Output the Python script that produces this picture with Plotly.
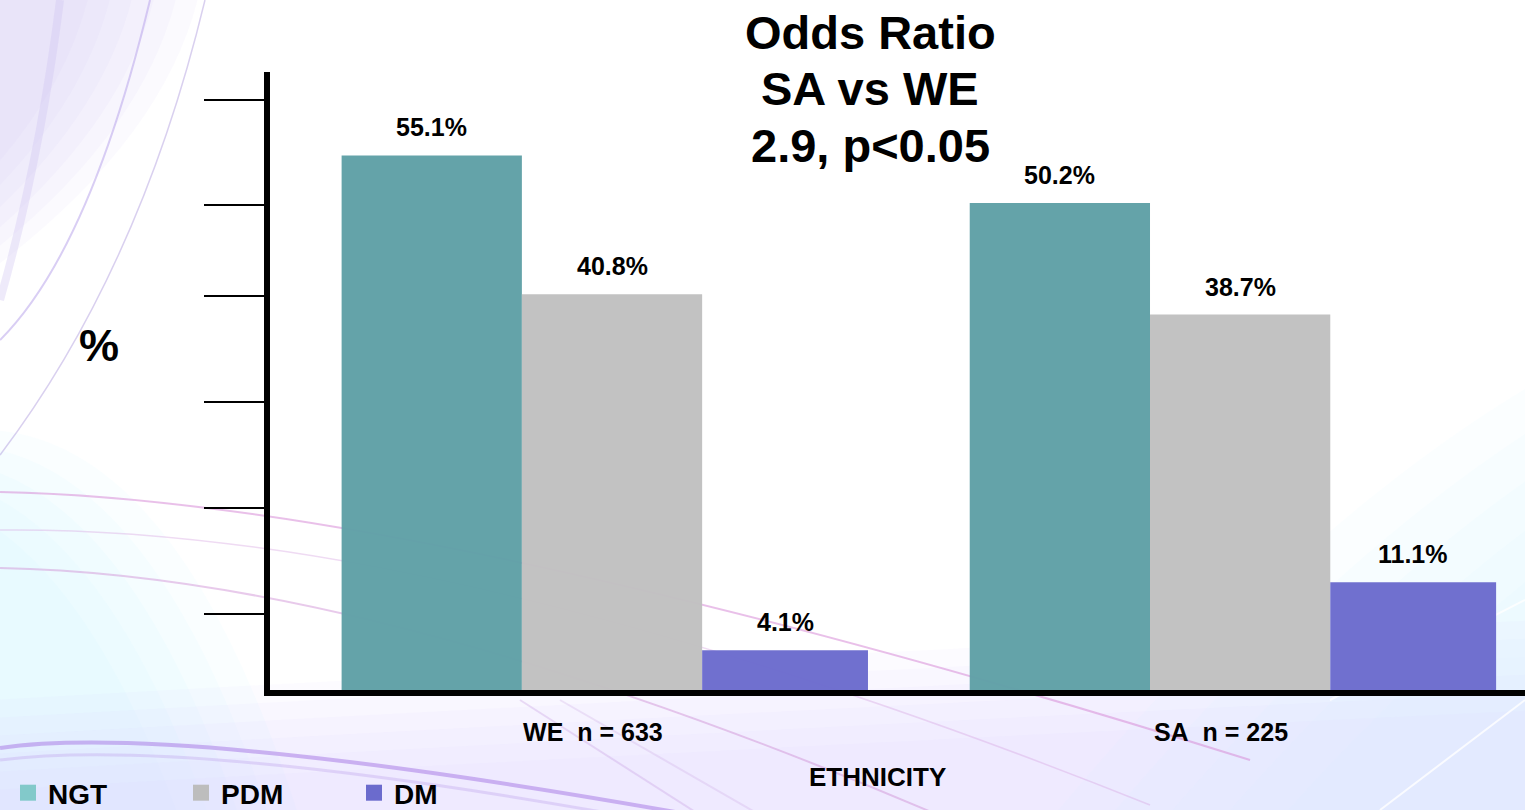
import plotly.graph_objects as go

# ---- data -------------------------------------------------------------
groups = ["WE\u00a0\u00a0n = 633", "SA\u00a0\u00a0n = 225"]
series_names = ["NGT", "PDM", "DM"]
ngt_pct = [55.1, 50.2]
pdm_pct = [40.8, 38.7]
dm_pct = [4.1, 11.1]
tick_marks = [7.8, 18.8, 29.7, 40.6, 50.0, 60.8]
title_lines = ["Odds Ratio", "SA vs WE", "2.9, p<0.05"]

# ---- geometry ---------------------------------------------------------
W, H = 1525, 810
L, R, T, B = 270, 0, 72, 120
X_RANGE = [-0.514, 1.484]
Y_RANGE = [0, 63.7]


def px_x(x):
    return (x - L) / (W - L - R)


def px_y(y):
    return (H - B - y) / (H - T - B)


def path(points, close=False):
    """Build an SVG path (paper coords) from pixel-space commands."""
    out = []
    for cmd, *pts in points:
        coords = []
        for i in range(0, len(pts), 2):
            coords.append(f"{px_x(pts[i]):.4f},{px_y(pts[i + 1]):.4f}")
        out.append(cmd + " ".join(coords))
    s = " ".join(out)
    return s + (" Z" if close else "")


BOLD = "Liberation Sans, Arial, sans-serif"

fig = go.Figure()

bar_styles = [
    (ngt_pct, "#5fa0a6", -0.400, 0.287),
    (pdm_pct, "#c0c0c0", -0.113, 0.287),
    (dm_pct, "#6b6bcd", 0.174, 0.264),
]
for name, (vals, color, off, wid) in zip(series_names, bar_styles):
    fig.add_trace(go.Bar(
        x=groups, y=vals, name=name,
        offset=off, width=wid,
        marker=dict(color=color, line=dict(width=0)), opacity=0.97,
        showlegend=False, hoverinfo="x+y",
    ))
    # value labels above each bar
    for i, v in enumerate(vals):
        fig.add_annotation(
            x=i + off + wid / 2, y=v, xref="x", yref="y",
            text=f"<b>{v:.1f}%</b>", showarrow=False,
            yanchor="bottom", yshift=12,
            font=dict(family=BOLD, size=25, color="black"),
        )

# legend entries (square swatches)
legend_colors = ["#82c9ca", "#bdbdbd", "#6b6bcd"]
for name, color in zip(series_names, legend_colors):
    fig.add_trace(go.Scatter(
        x=[None], y=[None], mode="markers", name=f"<b>{name}</b>",
        marker=dict(symbol="square", size=22, color=color),
    ))

# ---- background decoration -------------------------------------------
shapes = []


def wash(cmds, color, layers, step):
    """Soft gradient: stacked translucent fills, each shifted by `step`."""
    for k in range(layers):
        dx, dy = step[0] * k, step[1] * k
        moved = []
        for cmd, *pts in cmds:
            p = []
            for i in range(0, len(pts), 2):
                p += [pts[i] + dx, pts[i + 1] + dy]
            moved.append((cmd, *p))
        shapes.append(dict(type="path", xref="paper", yref="paper", layer="below",
                           path=path(moved, True), fillcolor=color, line=dict(width=0)))


# lavender wash on the upper left
wash([("M", -400, -10), ("L", 200, -10), ("Q", 140, 260, -400, 480)],
     "rgba(195,185,245,0.07)", 6, (-22, 0))
# cyan wash lower left
wash([("M", -10, 430), ("Q", 180, 440, 300, 820), ("L", -10, 820)],
     "rgba(205,240,250,0.09)", 5, (-25, 15))
# lavender wash along the bottom
wash([("M", -10, 700), ("Q", 700, 660, 1540, 620), ("L", 1540, 820), ("L", -10, 820)],
     "rgba(215,200,250,0.08)", 6, (0, 18))
# cyan wash lower right
wash([("M", 1050, 820), ("Q", 1300, 520, 1540, 380), ("L", 1540, 820)],
     "rgba(210,245,252,0.09)", 5, (40, 20))

# arcs on the upper left
for (x0, y0, cx, cy, x1, y1, c, w) in [
    (150, 0, 90, 250, 0, 340, "rgba(185,165,235,0.55)", 2),
    (205, 0, 140, 270, 0, 455, "rgba(170,150,220,0.45)", 1.5),
    (60, 0, 40, 160, 0, 300, "rgba(205,195,242,0.35)", 8),
]:
    shapes.append(dict(type="path", xref="paper", yref="paper", layer="below",
                       path=path([("M", x0, y0), ("Q", cx, cy, x1, y1)]),
                       line=dict(color=c, width=w)))
# sweeping pink curves across the lower part
for (y0, cx, cy, x1, y1, c, w) in [
    (492, 420, 500, 1250, 760, "rgba(215,140,215,0.55)", 2),
    (530, 450, 525, 1150, 805, "rgba(215,165,225,0.4)", 1.5),
    (568, 380, 575, 950, 820, "rgba(210,150,215,0.5)", 2),
    (748, 180, 722, 720, 820, "rgba(170,125,230,0.55)", 4),
    (760, 200, 735, 700, 830, "rgba(190,160,235,0.35)", 3),
]:
    shapes.append(dict(type="path", xref="paper", yref="paper", layer="below",
                       path=path([("M", 0, y0), ("Q", cx, cy, x1, y1)]),
                       line=dict(color=c, width=w)))
# faint diagonal streaks below the axis
for (x0, y0, x1, y1, c) in [
    (520, 700, 700, 815, "rgba(200,160,225,0.35)"),
    (560, 700, 760, 815, "rgba(200,160,225,0.25)"),
    (1330, 700, 1525, 600, "rgba(255,255,255,0.8)"),
    (1380, 810, 1525, 700, "rgba(255,255,255,0.8)"),
]:
    shapes.append(dict(type="line", xref="paper", yref="paper", layer="below",
                       x0=px_x(x0), y0=px_y(y0), x1=px_x(x1), y1=px_y(y1),
                       line=dict(color=c, width=2)))

fig.update_layout(shapes=shapes)

# ---- text -------------------------------------------------------------
for line, yc in zip(title_lines, [32, 88, 145]):
    fig.add_annotation(
        xref="paper", yref="paper", x=px_x(870), y=px_y(yc),
        xanchor="center", yanchor="middle", showarrow=False,
        text=f"<b>{line}</b>",
        font=dict(family=BOLD, size=47, color="black"),
    )
fig.add_annotation(
    xref="paper", yref="paper", x=px_x(99), y=px_y(345),
    xanchor="center", yanchor="middle", showarrow=False,
    text="<b>%</b>", font=dict(family=BOLD, size=45, color="black"),
)
fig.add_annotation(
    xref="paper", yref="paper", x=px_x(877), y=px_y(777),
    xanchor="center", yanchor="middle", showarrow=False,
    text="<b>ETHNICITY</b>", font=dict(family=BOLD, size=26, color="black"),
)

# ---- axes & layout ---------------------------------------------------
fig.update_xaxes(
    type="category", range=X_RANGE,
    showline=True, linecolor="black", linewidth=6,
    showgrid=False, zeroline=False, ticks="",
    tickfont=dict(family=BOLD, size=25, color="black"),
    tickvals=groups, ticktext=[f"<b>{g}</b>" for g in groups],
    ticklabelstandoff=15,
)
fig.update_yaxes(
    range=Y_RANGE, showline=True, linecolor="black", linewidth=6,
    showgrid=False, zeroline=False,
    ticks="outside", ticklen=60, tickwidth=2, tickcolor="black",
    tickvals=tick_marks, showticklabels=False,
)
fig.update_layout(
    width=W, height=H, autosize=False,
    margin=dict(l=L, r=R, t=T, b=B, autoexpand=False),
    paper_bgcolor="white", plot_bgcolor="rgba(0,0,0,0)",
    barmode="overlay",
    legend=dict(
        orientation="h", x=px_x(8), y=px_y(768),
        xanchor="left", yanchor="top",
        font=dict(family=BOLD, size=28, color="black"),
        bgcolor="rgba(0,0,0,0)", itemsizing="trace",
        entrywidth=128, tracegroupgap=0,
    ),
    font=dict(family=BOLD, color="black"),
)

fig.write_html("out.html")
